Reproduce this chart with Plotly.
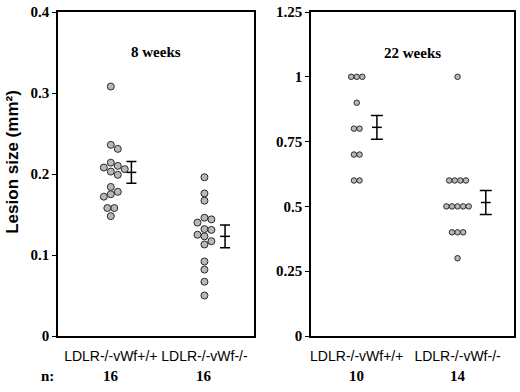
import plotly.graph_objects as go

# ---------------- data ----------------
groups = ["LDLR-/-vWf+/+", "LDLR-/-vWf-/-"]

w8_wt = [0.308, 0.236, 0.231, 0.214, 0.210, 0.208, 0.206, 0.203, 0.199,
         0.184, 0.178, 0.175, 0.172, 0.158, 0.158, 0.148]
w8_ko = [0.196, 0.176, 0.167, 0.146, 0.144, 0.140, 0.132, 0.131, 0.125,
         0.123, 0.117, 0.113, 0.092, 0.082, 0.067, 0.050]
w8_mean = [0.202, 0.123]
w8_sem = [0.0135, 0.014]

w22_wt = [1.0, 1.0, 1.0, 0.9, 0.8, 0.8, 0.7, 0.7, 0.6, 0.6]
w22_ko = [1.0, 0.6, 0.6, 0.6, 0.6, 0.5, 0.5, 0.5, 0.5, 0.5, 0.4, 0.4, 0.4, 0.3]
w22_mean = [0.805, 0.515]
w22_sem = [0.046, 0.046]

n8 = [16, 16]
n22 = [10, 14]

y8_ticks = [0, 0.1, 0.2, 0.3, 0.4]
y8_labels = ["0", "0.1", "0.2", "0.3", "0.4"]
y22_ticks = [0, 0.25, 0.5, 0.75, 1, 1.25]
y22_labels = ["0", "0.25", "0.5", "0.75", "1", "1.25"]

titles = ["8 weeks", "22 weeks"]

# ---------------- helpers ----------------
def swarm(vals, px_per_y, px_per_x, d):
    """Simple beeswarm: returns x offsets (data units) avoiding overlap."""
    order = sorted(range(len(vals)), key=lambda i: -vals[i])
    placed = []
    offs = [0.0] * len(vals)
    cands = [0]
    for j in range(1, 30):
        cands += [j, -j]
    for i in order:
        y = vals[i] * px_per_y
        x = 0
        for c in cands:
            x = c * d
            if all((x - px) ** 2 + (y - py) ** 2 >= (0.97 * d) ** 2 for px, py in placed):
                break
        placed.append((x, y))
        offs[i] = x / px_per_x
    rows = {}
    for i, v in enumerate(vals):
        rows.setdefault(v, []).append(i)
    for v, idx in rows.items():
        if len(idx) > 1:
            m = sum(offs[i] for i in idx) / len(idx)
            for i in idx:
                offs[i] -= m
    return offs


def bold(lst):
    return ["<b>%s</b>" % s for s in lst]


FILL = "#b8b8b8"
EDGE = "#2a2a2a"
serif = "Liberation Serif"
sans = "Liberation Sans"

fig = go.Figure()

panels = [
    dict(wt=w8_wt, ko=w8_ko, mean=w8_mean, sem=w8_sem, xa="x", ya="y",
         ypx=815.0, xpx=94.0, d=7.0, msize=7, eoff=[0.22, 0.22], ew=5),
    dict(wt=w22_wt, ko=w22_ko, mean=w22_mean, sem=w22_sem, xa="x2", ya="y2",
         ypx=258.4, xpx=101.0, d=5.6, msize=5.5, eoff=[0.2, 0.28], ew=6),
]

for p in panels:
    for gi, vals in enumerate([p["wt"], p["ko"]]):
        offs = swarm(vals, p["ypx"], p["xpx"], p["d"])
        fig.add_trace(go.Scatter(
            x=[gi + 1 + o for o in offs], y=vals, mode="markers",
            xaxis=p["xa"], yaxis=p["ya"], showlegend=False,
            marker=dict(size=p["msize"], color=FILL,
                        line=dict(color=EDGE, width=1)),
            hoverinfo="y"))
    fig.add_trace(go.Scatter(
        x=[1 + p["eoff"][0], 2 + p["eoff"][1]], y=p["mean"], mode="markers",
        xaxis=p["xa"], yaxis=p["ya"], showlegend=False,
        marker=dict(symbol="line-ew", size=7, color="black",
                    line=dict(color="black", width=1.5)),
        error_y=dict(type="data", array=p["sem"], color="black",
                     thickness=1.5, width=p["ew"])))

axis_common = dict(showline=True, linecolor="black", linewidth=1.5,
                   mirror=True, showgrid=False, zeroline=False)

xfont = dict(family=sans, size=14, color="black")
yfont = dict(family=serif, size=15, color="black", weight="bold")

fig.update_layout(
    width=520, height=392,
    margin=dict(l=58, r=4, t=12, b=56),
    paper_bgcolor="white", plot_bgcolor="white",
    xaxis=dict(domain=[0, 0.43], range=[0.436, 2.53], tickvals=[1, 2],
               ticktext=groups, ticks="", anchor="y", ticklabelstandoff=6,
               tickfont=xfont, **axis_common),
    yaxis=dict(range=[0, 0.4], tickvals=y8_ticks, ticktext=bold(y8_labels),
               ticks="outside", ticklen=4, tickwidth=1.2, tickcolor="black",
               anchor="x", tickfont=yfont, **axis_common),
    xaxis2=dict(domain=[0.5546, 1], range=[0.545, 2.56], tickvals=[1, 2],
                ticktext=groups, ticks="", anchor="y2", ticklabelstandoff=6,
                tickfont=xfont, **axis_common),
    yaxis2=dict(range=[0, 1.25], tickvals=y22_ticks, ticktext=bold(y22_labels),
                ticks="outside", ticklen=4, tickwidth=1.2, tickcolor="black",
                anchor="x2", tickfont=yfont, **axis_common),
)

tfont = dict(family=serif, size=15, color="black", weight="bold")
ann = []
ann.append(dict(text="<b>%s</b>" % titles[0], xref="x domain", yref="y domain", x=0.5, y=0.907,
                showarrow=False, font=tfont))
ann.append(dict(text="<b>%s</b>" % titles[1], xref="x2 domain", yref="y2 domain", x=0.5, y=0.905,
                showarrow=False, font=tfont))
ann.append(dict(text="<b>Lesion size (mm²)</b>", xref="paper", yref="paper", x=-0.100, y=0.539,
                textangle=-90, showarrow=False, xanchor="center", yanchor="middle",
                font=dict(family=sans, size=17, color="black", weight="bold")))
ann.append(dict(text="<b>n:</b>", xref="paper", yref="paper", x=-0.024, y=-0.124,
                showarrow=False, xanchor="center", yanchor="middle", font=tfont))
for gi in range(2):
    ann.append(dict(text="<b>%d</b>" % n8[gi], xref="x", yref="paper", x=gi + 1, y=-0.124,
                    showarrow=False, yanchor="middle", font=tfont))
    ann.append(dict(text="<b>%d</b>" % n22[gi], xref="x2", yref="paper", x=gi + 1, y=-0.124,
                    showarrow=False, yanchor="middle", font=tfont))
fig.update_layout(annotations=ann)

# remove the default 8px page margin so the figure sits at the window's corner
fig.write_html("out.html",
               config={"displayModeBar": False},
               post_script="document.body.style.margin='0px';document.body.style.overflow='hidden';")
